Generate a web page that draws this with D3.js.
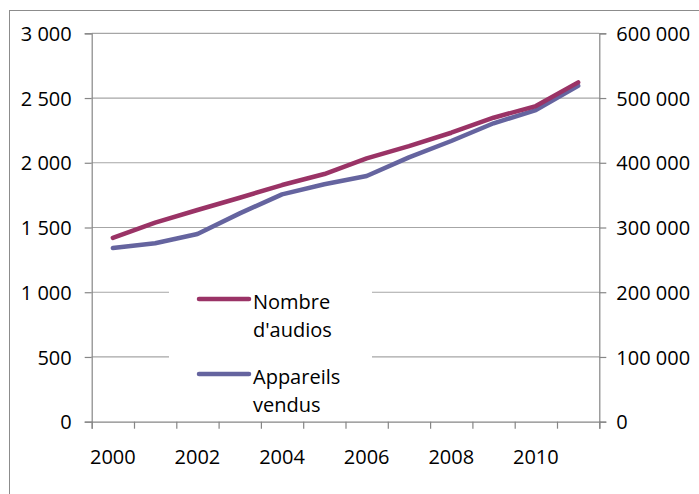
<!DOCTYPE html>
<html>
<head>
<meta charset="utf-8">
<script src="https://cdn.jsdelivr.net/npm/d3@7"></script>
<style>
  html, body { margin: 0; padding: 0; background: #fff; }
  svg { display: block; }
  text { font-family: "Open Sans", sans-serif; fill: #000; }
</style>
</head>
<body>
<svg id="chart" width="699" height="494"></svg>
<script>
// Years on the category axis
const years = [2000, 2001, 2002, 2003, 2004, 2005, 2006, 2007, 2008, 2009, 2010, 2011];
// Left axis series: number of audio professionals
const nombreAudios = [1420, 1537, 1635, 1730, 1828, 1913, 2034, 2129, 2232, 2348, 2438, 2621];
// Right axis series: hearing aids sold
const appareilsVendus = [268200, 275600, 290000, 321800, 351200, 366800, 379600, 408400, 433600, 461000, 481400, 519000];
// Axis ticks
const leftTicks = [0, 500, 1000, 1500, 2000, 2500, 3000];
const rightTicks = [0, 100000, 200000, 300000, 400000, 500000, 600000];
const yearLabels = [2000, 2002, 2004, 2006, 2008, 2010];
const seriesNames = ["Nombre d'audios", "Appareils vendus"];
const seriesColors = ["#9a3366", "#65649f"];

const svg = d3.select("#chart");
const plot = { left: 91.7, right: 599.3, top: 33.3, bottom: 421.7 };

// Thousands separated by a space, French style
const fmt = v => d3.format(",")(v).replace(/,/g, " ");

const x = d3.scaleBand().domain(years).range([plot.left, plot.right]).padding(0);
const yL = d3.scaleLinear().domain([0, 3000]).range([plot.bottom, plot.top]);
const yR = d3.scaleLinear().domain([0, 600000]).range([plot.bottom, plot.top]);

// Outer chart frame
svg.append("rect")
  .attr("x", 9.5).attr("y", 10.5)
  .attr("width", 720).attr("height", 520)
  .attr("fill", "none").attr("stroke", "#8c8c8c").attr("stroke-width", 1);

// Horizontal gridlines
svg.append("g").selectAll("line").data(leftTicks.filter(d => d > 0)).join("line")
  .attr("x1", plot.left).attr("x2", plot.right)
  .attr("y1", d => yL(d)).attr("y2", d => yL(d))
  .attr("stroke", "#a6a6a6").attr("stroke-width", 1.2);

// Left axis
const leftAxis = svg.append("g")
  .attr("transform", `translate(${plot.left},0)`)
  .call(d3.axisLeft(yL).tickValues(leftTicks).tickFormat(fmt).tickSize(7).tickPadding(13));
// Right axis
const rightAxis = svg.append("g")
  .attr("transform", `translate(${plot.right},0)`)
  .call(d3.axisRight(yR).tickValues(rightTicks).tickFormat(fmt).tickSize(7).tickPadding(10));
// Bottom category axis: ticks on category boundaries, labels every other year
const xBoundaries = d3.scaleLinear().domain([0, years.length]).range([plot.left, plot.right]);
const bottomAxis = svg.append("g")
  .attr("transform", `translate(0,${plot.bottom})`)
  .call(d3.axisBottom(xBoundaries).tickValues(d3.range(0, years.length + 1)).tickFormat("").tickSize(7));
svg.append("g").selectAll("text").data(yearLabels).join("text")
  .attr("x", d => x(d) + x.bandwidth() / 2)
  .attr("y", 464)
  .attr("text-anchor", "middle")
  .style("font-size", "20px")
  .text(d => d);

[leftAxis, rightAxis, bottomAxis].forEach(g => {
  g.select(".domain").attr("stroke", "#868686").attr("stroke-width", 1.2);
  g.selectAll(".tick line").attr("stroke", "#868686").attr("stroke-width", 1.2);
  g.selectAll(".tick text").style("font-size", "20px").attr("fill", "#000")
    .attr("dy", "0.36em").style("font-family", "'Open Sans', sans-serif");
});

// Legend background covers gridlines behind it
svg.append("rect")
  .attr("x", 169).attr("y", 276).attr("width", 203).attr("height", 142)
  .attr("fill", "#fff");

// Series lines
const lineL = d3.line().x((d, i) => x(years[i]) + x.bandwidth() / 2).y(d => yL(d));
const lineR = d3.line().x((d, i) => x(years[i]) + x.bandwidth() / 2).y(d => yR(d));

svg.append("path").datum(appareilsVendus).attr("d", lineR)
  .attr("fill", "none").attr("stroke", seriesColors[1]).attr("stroke-width", 4.5)
  .attr("stroke-linecap", "round").attr("stroke-linejoin", "round");
svg.append("path").datum(nombreAudios).attr("d", lineL)
  .attr("fill", "none").attr("stroke", seriesColors[0]).attr("stroke-width", 4.5)
  .attr("stroke-linecap", "round").attr("stroke-linejoin", "round");

// Legend
const legendRows = [
  { name: seriesNames[0], color: seriesColors[0], y: 299, lines: ["Nombre", "d'audios"] },
  { name: seriesNames[1], color: seriesColors[1], y: 374, lines: ["Appareils", "vendus"] }
];
const lg = svg.append("g");
legendRows.forEach(r => {
  lg.append("line").attr("x1", 199).attr("x2", 249).attr("y1", r.y).attr("y2", r.y)
    .attr("stroke", r.color).attr("stroke-width", 4.5).attr("stroke-linecap", "round");
  lg.append("text").attr("x", 253).attr("y", r.y + 10).style("font-size", "20px").text(r.lines[0]);
  lg.append("text").attr("x", 253).attr("y", r.y + 38).style("font-size", "20px").text(r.lines[1]);
});
</script>
</body>
</html>
